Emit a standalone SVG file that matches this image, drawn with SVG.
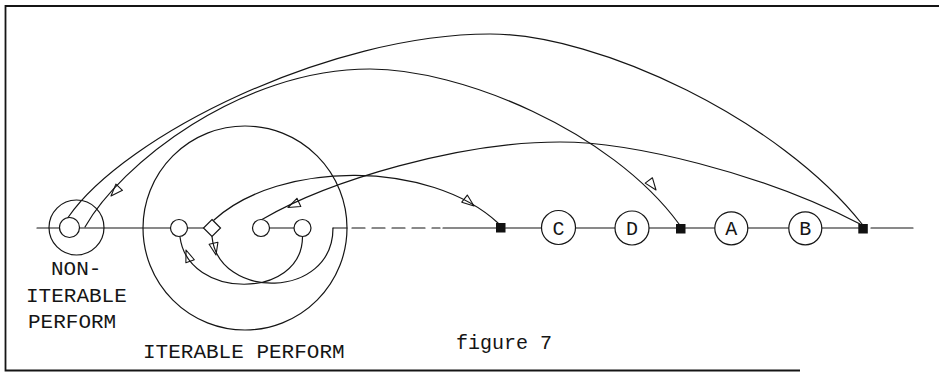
<svg xmlns="http://www.w3.org/2000/svg" width="939" height="373" viewBox="0 0 939 373">
  <style>
    .ln { fill: none; stroke: #151515; stroke-width: 1.2; stroke-linecap: round; }
    .nd { fill: #fff; stroke: #151515; stroke-width: 1.2; }
    .sq { fill: #111; stroke: none; }
    .frame { fill: none; stroke: #151515; stroke-width: 1.8; }
    .lbl { font-family: "Liberation Mono", "DejaVu Sans Mono", monospace; font-size: 21px; fill: #151515; }
    .ctr { text-anchor: middle; font-size: 20px; }
    .dash { stroke-dasharray: 13 7; }
  </style>
  <defs>
    <!-- open arrowhead pointing along +x, tip at origin -->
    <path id="ah" d="M0,0 L-12,-4.5 L-12,4.5 Z" fill="none" stroke="#151515" stroke-width="1.1" stroke-linejoin="round"/>
  </defs>

  <!-- page frame (open on the right) -->
  <path class="frame" d="M939,6 H5.5 V370.5 H800"/>

  <g id="connectors">
    <!-- main control line -->
    <path class="ln" d="M37,228 H59.5 M79.5,228 H170.5 M187.5,228 H203.5"/>
    <path class="ln" d="M269.5,228 H294"/>
    <path class="ln" d="M333,228 H347"/>
    <path class="ln dash" d="M352,228 H440"/>
    <path class="ln" d="M443,228 H496"/>
    <path class="ln" d="M505.5,228 H541.5 M575.5,228 H615 M649,228 H676 M685.5,228 H714.5 M748,228 H788.5 M822,228 H858.5 M871,228 H913"/>

    <!-- loop inside the iterable perform -->
    <path class="ln" d="M302.5,237 C302,300 188,300 180,237"/>
    <path class="ln" d="M212,236.5 C218,300 333,300 333,228"/>

    <!-- transfers of control -->
    <path class="ln" d="M68,217.5 C125,135 330,34 490,34 C600,34 780,120 862,224"/>
    <path class="ln" d="M85,227 C120,165 240,69 370,69 C460,69 610,130 679,224"/>
    <path class="ln" d="M214,220 C280,160 430,160 498,223"/>
    <path class="ln" d="M262,219.5 C330,180 460,142 560,142 C630,142 760,172 860,224"/>

    <!-- arrowheads -->
    <use href="#ah" transform="translate(111,196) rotate(133)"/>
    <use href="#ah" transform="translate(656,190) rotate(53)"/>
    <use href="#ah" transform="translate(474,206) rotate(38)"/>
    <use href="#ah" transform="translate(288,207.5) rotate(155)"/>
    <use href="#ah" transform="translate(186,250) rotate(-110)"/>
    <use href="#ah" transform="translate(216,255) rotate(78)"/>
  </g>

  <g id="non-iterable-perform">
    <circle class="ln" cx="76.5" cy="227.5" r="27.5"/>
    <circle class="nd" cx="69.5" cy="227.5" r="10"/>
    <text class="lbl" x="51" y="275">NON-</text>
    <text class="lbl" x="26" y="301.5">ITERABLE</text>
    <text class="lbl" x="28" y="328">PERFORM</text>
  </g>

  <g id="iterable-perform">
    <circle class="ln" cx="245" cy="228" r="102"/>
    <circle class="nd" cx="179" cy="228" r="8.5"/>
    <path class="nd" d="M212,219.5 L220.5,228 L212,236.5 L203.5,228 Z"/>
    <circle class="nd" cx="261" cy="228" r="8.5"/>
    <circle class="nd" cx="302.5" cy="228" r="8.5"/>
    <text class="lbl" x="143" y="358">ITERABLE PERFORM</text>
  </g>

  <g id="entry-1"><rect class="sq" x="496" y="223" width="9.5" height="9.5"/></g>
  <g id="para-C">
    <circle class="nd" cx="558.5" cy="227.5" r="17"/>
    <text class="lbl ctr" x="558.5" y="234.5">C</text>
  </g>
  <g id="para-D">
    <circle class="nd" cx="632" cy="228" r="17"/>
    <text class="lbl ctr" x="632" y="235">D</text>
  </g>
  <g id="entry-2"><rect class="sq" x="676" y="224" width="9.5" height="9.5"/></g>
  <g id="para-A">
    <circle class="nd" cx="731.3" cy="228.3" r="16.5"/>
    <text class="lbl ctr" x="731.3" y="235.3">A</text>
  </g>
  <g id="para-B">
    <circle class="nd" cx="805.3" cy="228.3" r="16.5"/>
    <text class="lbl ctr" x="805.3" y="235.3">B</text>
  </g>
  <g id="entry-3"><rect class="sq" x="858.3" y="224" width="9.5" height="9.5"/></g>

  <text class="lbl" x="456" y="349" style="font-size:20px">figure 7</text>
</svg>
